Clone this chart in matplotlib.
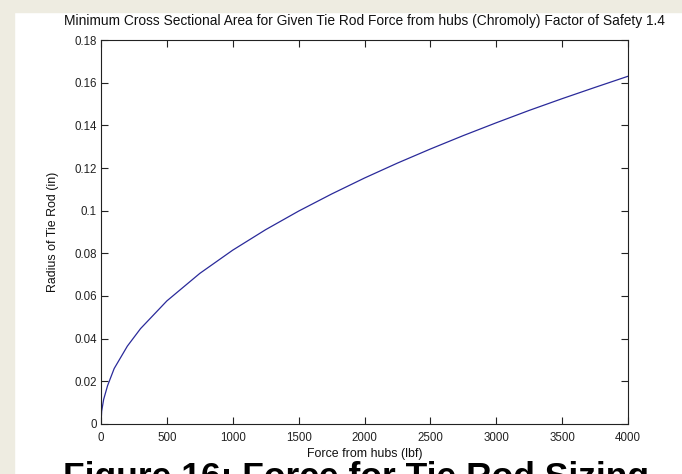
import matplotlib
matplotlib.use("Agg")
import matplotlib.pyplot as plt
from matplotlib.patches import Rectangle

# Data
force_lbf = [0, 5, 20, 50, 100, 200, 300, 500, 750, 1000, 1250, 1500, 1750,
             2000, 2250, 2500, 2750, 3000, 3250, 3500, 3750, 4000]
radius_in = [0.0, 0.006, 0.0115, 0.018, 0.026, 0.0365, 0.0447, 0.0577, 0.0706,
             0.0815, 0.0911, 0.0998, 0.1078, 0.1153, 0.1223, 0.1289, 0.1352,
             0.1412, 0.1470, 0.1525, 0.1578, 0.1630]
x_ticks = [0, 500, 1000, 1500, 2000, 2500, 3000, 3500, 4000]
y_ticks = [0, 0.02, 0.04, 0.06, 0.08, 0.1, 0.12, 0.14, 0.16, 0.18]
y_tick_labels = ["0", "0.02", "0.04", "0.06", "0.08", "0.1", "0.12", "0.14", "0.16", "0.18"]

title = "Minimum Cross Sectional Area for Given Tie Rod Force from hubs (Chromoly) Factor of Safety 1.4"
xlabel = "Force from hubs (lbf)"
ylabel = "Radius of Tie Rod (in)"
caption = "Figure 16: Force for Tie Rod Sizing"

font = "Liberation Sans"
W, H = 682, 474
fig = plt.figure(figsize=(W / 100, H / 100), dpi=100)
fig.patch.set_facecolor("white")
beige = "#EEECE1"
fig.add_artist(Rectangle((0, 0), 14 / W, 1, transform=fig.transFigure, color=beige, zorder=0))
fig.add_artist(Rectangle((0, 1 - 12 / H), 1, 12 / H, transform=fig.transFigure, color=beige, zorder=0))

ax = fig.add_axes([101 / W, 1 - 424 / H, (628 - 101) / W, (424 - 40) / H])
ax.plot(force_lbf, radius_in, color="#2A2A9A", linewidth=0.9)
ax.set_xlim(0, 4000)
ax.set_ylim(0, 0.18)
ax.set_xticks(x_ticks)
ax.set_xticklabels([str(t) for t in x_ticks])
ax.set_yticks(y_ticks)
ax.set_yticklabels(y_tick_labels)
ax.tick_params(direction="in", length=5, width=0.8, top=True, right=True,
               labelsize=8.3, colors="#222222")
ax.tick_params(axis="x", pad=6)
ax.tick_params(axis="y", pad=3)
for lbl in ax.get_xticklabels() + ax.get_yticklabels():
    lbl.set_fontfamily(font)
for s in ax.spines.values():
    s.set_linewidth(0.8)
    s.set_color("#222222")

ax.set_title(title, fontfamily=font, fontsize=9.9, color="#111111", pad=11)
ax.set_xlabel(xlabel, fontfamily=font, fontsize=8.9, color="#111111", labelpad=3)
ax.set_ylabel(ylabel, fontfamily=font, fontsize=8.9, color="#111111", labelpad=11)

fig.text(63 / W, 1 - 487 / H, caption, fontfamily=font, fontweight="bold",
         fontsize=25.5, color="black", ha="left", va="baseline")

fig.savefig("out.png", dpi=100, facecolor=fig.get_facecolor())
